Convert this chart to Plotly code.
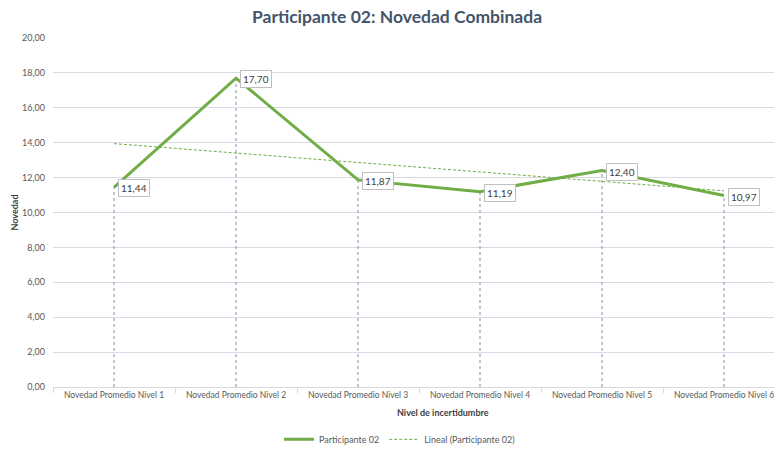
import numpy as np
import plotly.graph_objects as go

categories = ["Novedad Promedio Nivel 1", "Novedad Promedio Nivel 2", "Novedad Promedio Nivel 3",
              "Novedad Promedio Nivel 4", "Novedad Promedio Nivel 5", "Novedad Promedio Nivel 6"]
values = [11.44, 17.70, 11.87, 11.19, 12.40, 10.97]
y_ticks = [0, 2, 4, 6, 8, 10, 12, 14, 16, 18, 20]

GREEN = "#70ad47"
DROP = "#7f8faa"
FONT = "Lato"

# linear trendline (Excel-style least squares)
xi = np.arange(1, len(values) + 1)
slope, intercept = np.polyfit(xi, values, 1)
trend = slope * xi + intercept

fig = go.Figure()

# drop lines
for c, v in zip(categories, values):
    fig.add_trace(go.Scatter(x=[c, c], y=[0, v], mode="lines",
                             line=dict(color=DROP, width=1, dash="3px,3px"),
                             showlegend=False, hoverinfo="skip"))

fig.add_trace(go.Scatter(x=categories, y=values, mode="lines", name="Participante 02",
                         line=dict(color=GREEN, width=3)))
fig.add_trace(go.Scatter(x=categories, y=trend, mode="lines", name="Lineal (Participante 02)",
                         line=dict(color=GREEN, width=1, dash="3px,2px")))

for c, v in zip(categories, values):
    fig.add_annotation(x=c, y=v, text=f"{v:.2f}".replace(".", ","), showarrow=False,
                       xanchor="left", yanchor="middle", xshift=4, yshift=-1,
                       bgcolor="white", bordercolor="#bfbfbf", borderwidth=1, borderpad=2,
                       font=dict(family=FONT, size=10, color="#404040"))

fig.add_annotation(x=419 / 774, y=-0.052, xref="paper", yref="paper", xanchor="center", yanchor="top",
                   text="<b>Nivel de incertidumbre</b>", showarrow=False,
                   font=dict(family=FONT, size=9, color="#404040"))

fig.update_layout(
    width=774, height=450,
    margin=dict(l=53, r=0, t=38, b=63, autoexpand=False),
    paper_bgcolor="white", plot_bgcolor="white",
    separators=",.",
    title=dict(text="<b>Participante 02: Novedad Combinada</b>", x=397 / 774, xanchor="center",
               y=1 - 17 / 450, yanchor="middle",
               font=dict(family=FONT, size=17.5, color="#44546a")),
    font=dict(family=FONT, size=9, color="#595959"),
    xaxis=dict(type="category", range=[-0.5, -0.5 + 721 / 122], showgrid=False, automargin=False,
               showline=True, linecolor="#d9d9d9", linewidth=1,
               tickson="boundaries", ticks="outside", ticklen=5, tickcolor="#d9d9d9",
               tickfont=dict(family=FONT, size=8.5, color="#595959")),
    yaxis=dict(range=[0, 20], tickvals=y_ticks, tickformat=".2f", showgrid=True, automargin=False,
               gridcolor="#d9d9e6", gridwidth=1, zeroline=False, showline=False,
               ticks="", ticklabelstandoff=7,
               title=dict(text="<b>Novedad</b>", standoff=1,
                          font=dict(family=FONT, size=9, color="#404040")),
               tickfont=dict(family=FONT, size=9, color="#595959")),
    legend=dict(orientation="h", x=372 / 774, xanchor="center", y=-0.15, yanchor="middle",
                font=dict(family=FONT, size=9, color="#595959"), itemwidth=30),
)

fig.write_html("out.html", config={"displayModeBar": False})
with open("out.html", "r", encoding="utf-8") as f:
    html = f.read()
html = html.replace("<head>", "<head><style>html,body{margin:0;padding:0;overflow:hidden;}</style>", 1)
with open("out.html", "w", encoding="utf-8") as f:
    f.write(html)
